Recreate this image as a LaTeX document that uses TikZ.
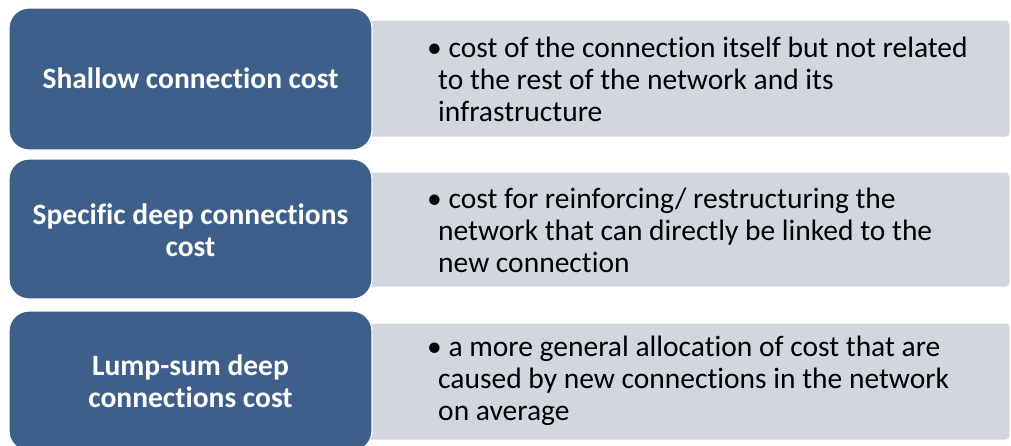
\documentclass[tikz,border=0pt]{standalone}
\usepackage{fontspec}
\setmainfont{Carlito}[Ligatures=NoCommon]
\definecolor{blockblue}{HTML}{3E5F8A}
\definecolor{panelgrey}{HTML}{D2D6DF}
\begin{document}
\begin{tikzpicture}[x=1pt,y=-1pt,
  headbox/.style={fill=blockblue,draw=white,line width=1.2pt,rounded corners=20pt},
  panelbox/.style={fill=panelgrey,draw=white,line width=1pt,rounded corners=4pt},
  headtext/.style={text=white,font=\fontsize{29.5}{32}\selectfont\bfseries,align=center,inner sep=0pt},
  paneltext/.style={text=black,font=\fontsize{29.5}{32}\selectfont,align=left,inner sep=0pt,anchor=west}]
  \useasboundingbox (0,0) rectangle (1011,445);
  \begin{scope}
  \clip (0,0) rectangle (1011,445);
  % right-hand description panels
  \path[panelbox] (355,20) rectangle (1010,137);
  \path[panelbox] (355,172) rectangle (1010,287);
  \path[panelbox] (355,323) rectangle (1010,440);
  % left-hand heading blocks
  \path[headbox] (9,8) rectangle (372,150);
  \path[headbox] (9,159) rectangle (372,299);
  \path[headbox] (9,311) rectangle (372,451);
  \end{scope}
  % headings
  \node[headtext] (h1) at (190.5,78) {Shallow connection cost};
  \node[headtext] (h2) at (190.5,230) {Specific deep connections\\cost};
  \node[headtext] (h3) at (190.5,381) {Lump-sum deep\\connections cost};
  % descriptions
  \node[paneltext] (d1) at (427,79) {\textbullet\ cost of the connection itself but not related\\\hspace*{11pt}to the rest of the network and its\\\hspace*{11pt}infrastructure};
  \node[paneltext] (d2) at (427,230) {\textbullet\ cost for reinforcing/ restructuring the\\\hspace*{11pt}network that can directly be linked to the\\\hspace*{11pt}new connection};
  \node[paneltext] (d3) at (427,381) {\textbullet\ a more general allocation of cost that are\\\hspace*{11pt}caused by new connections in the network\\\hspace*{11pt}on average};
\end{tikzpicture}
\end{document}
